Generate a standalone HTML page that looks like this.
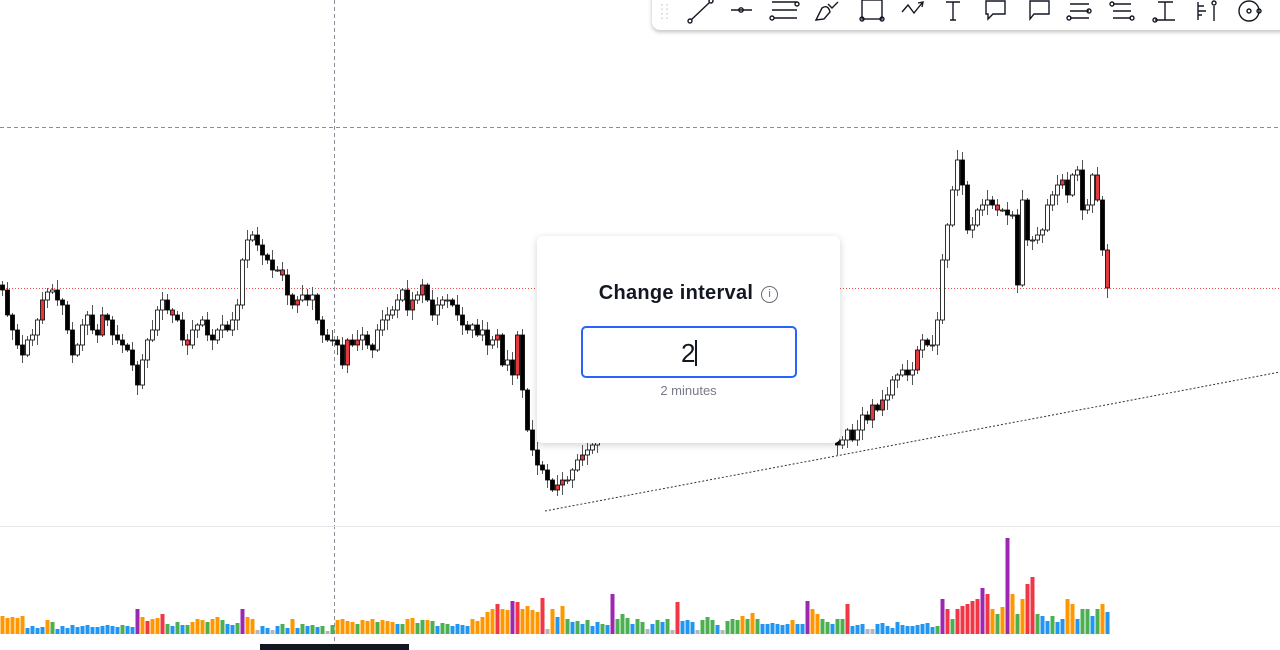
<!DOCTYPE html>
<html><head><meta charset="utf-8"><style>
html,body{margin:0;padding:0;background:#fff;width:1280px;height:650px;overflow:hidden;font-family:"Liberation Sans",sans-serif}
#chart{position:absolute;left:0;top:0}
#toolbar{position:absolute;left:652px;top:-6px;width:640px;height:36px;background:#fff;border-radius:0 0 0 8px;box-shadow:0 2px 4px rgba(0,0,0,.25)}
#dialog{position:absolute;left:537px;top:236px;width:303px;height:207px;background:#fff;border-radius:6px;box-shadow:0 2px 8px rgba(0,0,0,.18)}
#title{position:absolute;left:0;top:46px;width:303px;text-align:center;font-size:20px;font-weight:bold;color:#131722;letter-spacing:.3px}
#info{display:inline-block;width:15px;height:15px;border:1.3px solid #6a6d78;border-radius:50%;font-size:11px;line-height:15px;color:#6a6d78;font-weight:normal;vertical-align:2px;margin-left:8px}
#inp{position:absolute;left:44px;top:90px;width:212px;height:48px;border:2px solid #2962ff;border-radius:5px;box-sizing:content-box}
#inp span{position:absolute;left:0;width:100%;top:10px;text-align:center;font-size:26px;color:#131722}
#hint{position:absolute;left:0;top:147px;width:303px;text-align:center;font-size:13px;color:#787b86}
#bar{position:absolute;left:260px;top:644px;width:149px;height:6px;background:#131722}
</style></head><body>
<svg id="chart" width="1280" height="650">
<line x1="0" y1="127.5" x2="1280" y2="127.5" stroke="#8a8d96" stroke-dasharray="4,3"/>
<line x1="334.5" y1="0" x2="334.5" y2="644" stroke="#8a8d96" stroke-dasharray="4,3"/>
<line x1="0" y1="288.5" x2="1280" y2="288.5" stroke="#f05050" stroke-dasharray="1,2"/>
<line x1="0" y1="526.5" x2="1280" y2="526.5" stroke="#e6e7ea"/>
<g id="candles"></g>
<g id="vols"></g>
<line x1="545" y1="511" x2="1280" y2="372" stroke="#333" stroke-width="1" stroke-dasharray="2,2"/>
</svg>
<div id="toolbar">
<svg width="640" height="36" style="position:absolute;left:0;top:6px" fill="none" stroke="#131722" stroke-width="1.4">
<g stroke="#ccc" stroke-dasharray="1.5,3"><line x1="10" y1="4" x2="10" y2="22"/><line x1="15" y1="4" x2="15" y2="22"/></g>
<g><line x1="39" y1="20" x2="58" y2="2"/><circle cx="38" cy="21" r="2"/><circle cx="59" cy="1" r="2"/></g>
<g><line x1="79" y1="10" x2="100" y2="10"/><circle cx="89" cy="10" r="2.2"/></g>
<g><line x1="120" y1="2" x2="145" y2="2"/><line x1="120" y1="10" x2="145" y2="10"/><line x1="122" y1="18" x2="145" y2="18"/><circle cx="120" cy="18" r="2"/><circle cx="145" cy="4" r="2"/></g>
<g><path d="M164 20 L170 8 Q176 4 178 12 L172 19 Z"/><path d="M176 4 L180 8 L186 2"/></g>
<g><rect x="210" y="0" width="20" height="19"/><circle cx="210" cy="19" r="2"/><circle cx="230" cy="19" r="2"/></g>
<g><path d="M250 12 L256 5 L262 13 L270 3 M266 3 L271 2 L270 7"/></g>
<g><path d="M294 2 H308 M301 2 V20 M298 20 H304"/></g>
<g><path d="M334 1 H353 V14 H341 L336 19 V14 H334 Z"/></g>
<g><path d="M378 1 H397 V14 H382 L378 19 Z"/></g>
<g><path d="M418 4 H437 M418 11 H437 M418 18 H437"/><circle cx="417" cy="18" r="2"/><circle cx="437" cy="11" r="2"/></g>
<g><path d="M461 4 H479 M461 11 H479 M461 18 H479"/><circle cx="460" cy="4" r="2"/><circle cx="480" cy="18" r="2"/></g>
<g><path d="M503 20 H523 M513 20 V2 M506 2 H521"/><circle cx="503" cy="20" r="2"/></g>
<g><path d="M546 2 V20 M546 6 H552 M546 11 H554 M546 15 H550 M562 6 V21"/><circle cx="562" cy="3" r="2"/></g>
<g><circle cx="597" cy="11" r="10"/><circle cx="597" cy="11" r="2"/><circle cx="607" cy="11" r="2"/></g>
</svg></div>
<div id="dialog">
<div id="title">Change interval<span id="info">i</span></div>
<div id="inp"><span>2<span style="position:static;display:inline-block;width:1.5px;height:26px;background:#131722;vertical-align:-4px"></span></span></div>
<div id="hint">2 minutes</div>
</div>
<div id="bar"></div>
<script>
const closes=[310,285,270,255,245,260,265,280,300,308,310,300,295,270,245,255,275,285,270,265,285,280,265,260,255,250,235,215,240,260,270,290,300,290,285,280,260,255,270,275,280,265,260,270,275,270,280,295,340,360,365,355,345,340,330,330,325,305,295,300,305,300,305,280,265,260,260,255,235,260,255,260,265,255,250,270,280,285,290,300,310,290,300,305,315,300,285,295,300,300,295,285,275,270,275,265,270,255,260,265,235,240,225,265,210,170,150,135,130,120,110,115,120,120,130,140,145,150,155,160,
165,170,175,180,185,180,190,195,200,190,195,200,205,200,195,190,185,190,195,200,190,185,180,185,190,195,200,205,200,190,185,180,175,180,185,190,195,200,205,210,215,220,215,210,205,190,170,155,
160,170,160,170,185,180,195,190,200,205,220,225,230,225,230,250,260,255,255,280,340,375,410,440,415,370,375,390,395,400,395,390,390,385,385,315,400,360,360,365,370,395,405,415,420,405,425,430,390,395,425,400,350,312];
const wickHi="2413523142351241325341253142315243124351243152431524315243125341235241354213542315423154231542135423154231542315421354231543215423154213542315423154231542135421354213542135423154213542315431254";
const wickLo="3152413524135241352413524135241352413524135241352413524135241352413524135241352413524135241352413524135241352413524135241352413524135241352413524135241352413524135241352413524135241352413524135241352";
const redIdx=[8,20,34,37,56,59,66,69,71,82,84,99,103,111,112,116,174,176,183,199,212,219,221];
const volumes=[18,16,17,16,18, 6,8,6,7, 14,12,5, 8,6,9,7,8,9,7,7,8,9,8,7,9,8,7, 25, 17,13,15,16,20, 10,8,12,9,9,12,15,14,12,15,17,14,10,9,11, 25, 17,15, 4,8,6,4,8,10,6,15,6,10,8,9,7,8,3,9, 14,15,13,12,10,14,13,15,12,14,13,12,10,10,15,16,11,14,14,13,8,11,10,8,10,9,8,15,13,17, 22,25,30,25,24,33,32,25,28,24,22,36,5,25, 17,28,15,12,13,10,14,8,12,10,9, 40, 15,20,16,10,15,12,5,10,14,12,15,4, 32, 13,14,12,4,14,17,14,9,4,13,15,14,18,15,21,15,10,10,11,10,9,10,14,10,10, 33,25,20,15,12,10,15,15,30, 8,9,10,5,5,10,11,8,6,12,9,8,8,9,10,11,7, 8,35,25,15,25,28,30,33,35,46,40,25,20,27,96,40,20,35,50,57,20,18,13,18,12,15,35,30,15,25,25,18,25,30,22];
const volColors=["ooooo","bbbb","ogb","bbbbbbbbbbbbgbb","p","oroor","gbgbgooogoogbbg","p","oo","nbbnbgbobgbgbgng","oooogooogooobgooggogbggbbbbooo","ooroopr","oooo","rno","bogbgbgbbgb","p","gggbggnbgbgn","r","bbbnggg","bnggg","ogogbb","bbbbobb","ooggbggr".replace(/^/,"p"),"bbbnnbbbbbbbbbbbb","gprgrrrrrprogopogorrgbbgbbo","obggbgob"].join("");
const COLORS={o:"#ff9800",b:"#2196f3",g:"#4caf50",p:"#9c27b0",r:"#f23645",n:"#b2b5be"};
const STEP=5, VOL_BASE=634;
function xScale(i){return i*STEP+2.5;}
function yScale(p){return 600-p;}
function vScale(v){return v;}
const NS="http://www.w3.org/2000/svg";
const cg=document.getElementById('candles');
for(let i=0;i<closes.length;i++){
  const o=i===0?closes[0]+5:closes[i-1], c=closes[i];
  const hi=Math.max(o,c)+(+wickHi[i%wickHi.length]||1)*2;
  const lo=Math.min(o,c)-(+wickLo[i%wickLo.length]||1)*2;
  const x=xScale(i);
  const w=document.createElementNS(NS,'line');
  w.setAttribute('x1',x);w.setAttribute('x2',x);w.setAttribute('y1',yScale(hi));w.setAttribute('y2',yScale(lo));
  w.setAttribute('stroke','#555');w.setAttribute('stroke-width','1');
  
  
  cg.appendChild(w);
  const b=document.createElementNS(NS,'rect');
  const top=yScale(Math.max(o,c)), h=Math.max(1,Math.abs(yScale(o)-yScale(c)));
  b.setAttribute('x',x-2);b.setAttribute('y',top);b.setAttribute('width',4);b.setAttribute('height',h);
  const fill=redIdx.includes(i)?'#e0393e':(c<o?'#000':'#fff');
  b.setAttribute('fill',fill);b.setAttribute('stroke','#000');b.setAttribute('stroke-width','0.8');
  
  
  cg.appendChild(b);
}
const vg=document.getElementById('vols');
for(let i=0;i<volumes.length;i++){
  const r=document.createElementNS(NS,'rect');
  const h=vScale(volumes[i]);
  r.setAttribute('x',xScale(i)-2);r.setAttribute('y',VOL_BASE-h);r.setAttribute('width',4);r.setAttribute('height',h);
  r.setAttribute('fill',COLORS[volColors[i]]||"#2196f3");
  
  
  vg.appendChild(r);
}
</script>
</body></html>
